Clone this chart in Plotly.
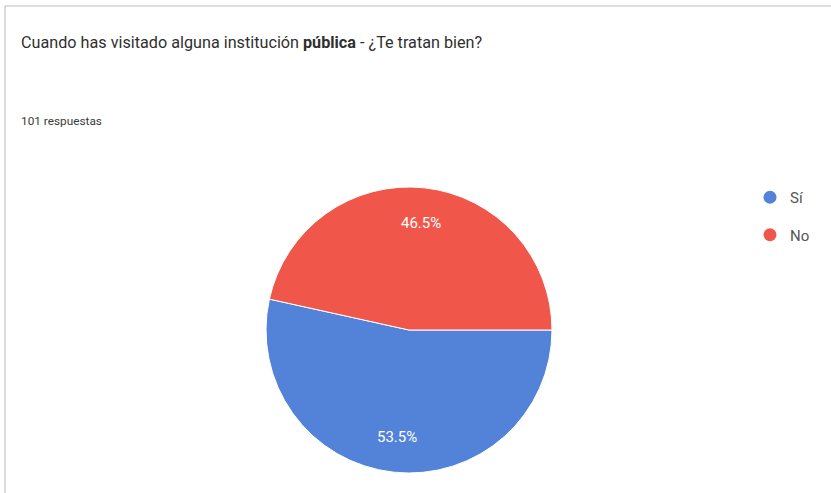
import math
import plotly.graph_objects as go

labels = ["Sí", "No"]
values = [54, 47]
colors = ["#5283d9", "#f0574a"]
title_text = "Cuando has visitado alguna institución <b>pública</b> - ¿Te tratan bien?"
subtitle_text = "101 respuestas"

W, H = 831, 493
cx, cy, R = 409, 330, 143

fig = go.Figure()
fig.add_trace(go.Pie(
    labels=labels, values=values, sort=False, direction="clockwise", rotation=90,
    marker=dict(colors=colors, line=dict(color="white", width=1)),
    textinfo="none",
    domain=dict(x=[(cx - R) / W, (cx + R) / W], y=[(H - cy - R) / H, (H - cy + R) / H]),
    showlegend=False, hoverinfo="label+percent",
))

# percentage labels placed along each slice's mid-angle (Google Forms style, 0.75 R)
total = sum(values)
start = 0.0  # degrees, standard orientation, starting at 3 o'clock, going clockwise
for lab, v in zip(labels, values):
    frac = v / total
    mid = start - frac * 360 / 2
    start -= frac * 360
    px = cx + 0.75 * R * math.cos(math.radians(mid))
    py = cy - 0.75 * R * math.sin(math.radians(mid))
    fig.add_annotation(text=f"{frac * 100:.1f}%", xref="paper", yref="paper",
                       x=px / W, y=1 - py / H, xanchor="center", yanchor="middle",
                       showarrow=False,
                       font=dict(family="Roboto", size=15, color="white"))

for lab, col in zip(labels, colors):
    fig.add_trace(go.Scatter(x=[None], y=[None], mode="markers", name=lab,
                             legendgroup=lab,
                             marker=dict(color=col, size=13, symbol="circle")))

fig.add_shape(type="rect", xref="paper", yref="paper",
              x0=5 / W, x1=1.02, y0=-0.05, y1=1 - 6 / H,
              line=dict(color="#bcbcbc", width=1), fillcolor="rgba(0,0,0,0)", layer="below")

fig.add_annotation(text=title_text, xref="paper", yref="paper", x=20 / W, y=1 - 43 / H,
                   xanchor="left", yanchor="middle", showarrow=False, borderpad=0,
                   font=dict(family="Roboto", size=16.2, color="#2f2f2f"))
fig.add_annotation(text=subtitle_text, xref="paper", yref="paper", x=20 / W, y=1 - 121 / H,
                   xanchor="left", yanchor="middle", showarrow=False, borderpad=0,
                   font=dict(family="Roboto", size=11.8, color="#3a3a3a"))

fig.update_layout(
    width=W, height=H, margin=dict(l=0, r=0, t=0, b=0),
    paper_bgcolor="white", plot_bgcolor="white",
    xaxis=dict(visible=False), yaxis=dict(visible=False),
    legend=dict(x=750 / W, y=1 - 181 / H, xanchor="left", yanchor="top",
                tracegroupgap=15, font=dict(family="Roboto", size=15, color="#555555"),
                bgcolor="rgba(0,0,0,0)"),
)
fig.write_html("out.html", config={"displayModeBar": False},
               post_script="document.body.style.margin='0';")
